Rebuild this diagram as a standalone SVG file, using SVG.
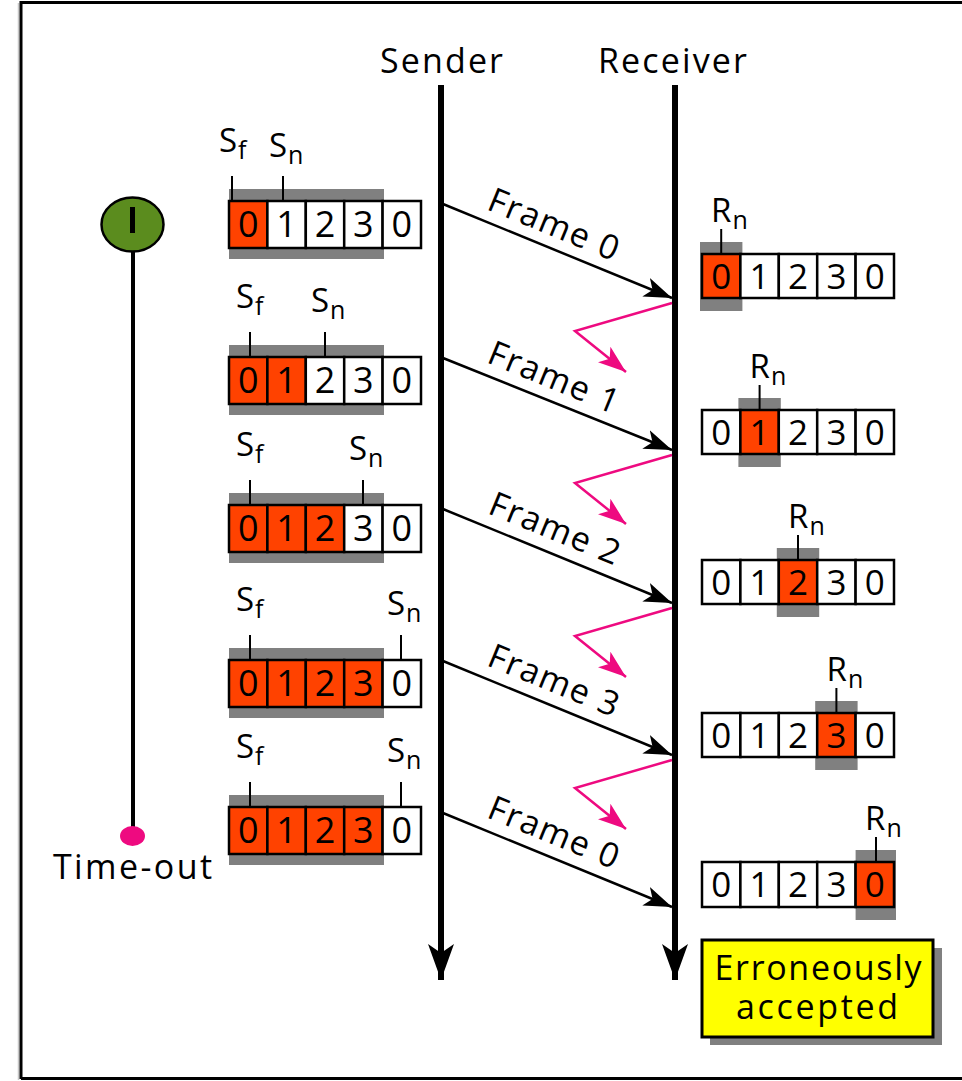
<svg xmlns="http://www.w3.org/2000/svg" width="962" height="1081" viewBox="0 0 962 1081">
<style>
text{font-family:"Open Sans","DejaVu Sans",sans-serif;fill:#000}
.lbl{font-size:34px}
.dig{font-size:36px;text-anchor:middle}
.rdig{font-size:35px;text-anchor:middle}
.sl{font-size:33px}
.sub{font-size:25px}
.cell{stroke:#000;stroke-width:2.5}
.on{fill:#ff4200}
.off{fill:#fff}
.shade{fill:#808080}
.tick{stroke:#000;stroke-width:2}
.frame{stroke:#000;stroke-width:2.5;fill:none;marker-end:url(#ah)}
.ack{stroke:#ee0a80;stroke-width:2.5;fill:none;marker-end:url(#ph)}
.axis{stroke:#000;stroke-width:6;marker-end:url(#vh)}
</style>
<defs>
<marker id="ah" markerUnits="userSpaceOnUse" markerWidth="30" markerHeight="22" refX="28" refY="11" orient="auto" viewBox="0 0 30 22">
<path d="M0,1 L28,11 L0,21 L7,11 z" fill="#000"/>
</marker>
<marker id="ph" markerUnits="userSpaceOnUse" markerWidth="30" markerHeight="22" refX="28" refY="11" orient="auto" viewBox="0 0 30 22">
<path d="M0,1 L28,11 L0,21 L7,11 z" fill="#ee0a80"/>
</marker>
<marker id="vh" markerUnits="userSpaceOnUse" markerWidth="40" markerHeight="26" refX="36" refY="13" orient="auto" viewBox="0 0 40 26">
<path d="M0,0 L36,13 L0,26 L9,13 z" fill="#000"/>
</marker>
</defs>
<rect width="962" height="1081" fill="#fff"/>
<g id="border" fill="none">
<path d="M18.5,3 V1080" stroke="#c8c8c8" stroke-width="1.5"/>
<path d="M21,1079 V2.5 H962 M21,1078.5 H962" stroke="#000" stroke-width="3"/>
</g>

<g id="sender-axis">
<text class="lbl" x="441.5" y="73" text-anchor="middle" textLength="123" lengthAdjust="spacing">Sender</text>
</g>
<g id="receiver-axis">
<text class="lbl" x="672.5" y="73" text-anchor="middle" textLength="149" lengthAdjust="spacing">Receiver</text>
</g>

<g id="timer">
<line x1="133" y1="252" x2="133" y2="828" stroke="#000" stroke-width="4"/>
<ellipse cx="132.5" cy="224.5" rx="31" ry="27" fill="#5b8c1e" stroke="#000" stroke-width="2.5"/>
<rect x="130" y="207" width="5" height="26" fill="#000"/>
<ellipse cx="132.5" cy="836" rx="12.5" ry="10" fill="#ee0a80"/>
<text class="lbl" x="132.5" y="879" text-anchor="middle" textLength="159" lengthAdjust="spacing">Time-out</text>
</g>

<!-- Sender windows -->
<g id="sw1">
<rect class="shade" x="229" y="189" width="155" height="70"/>
<rect class="cell on" x="229" y="201" width="38.4" height="47"/>
<rect class="cell off" x="267.4" y="201" width="38.4" height="47"/>
<rect class="cell off" x="305.8" y="201" width="38.4" height="47"/>
<rect class="cell off" x="344.2" y="201" width="38.4" height="47"/>
<rect class="cell off" x="382.6" y="201" width="38.4" height="47"/>
<text class="dig" y="237"><tspan x="248.2">0</tspan><tspan x="286.6">1</tspan><tspan x="325">2</tspan><tspan x="363.4">3</tspan><tspan x="401.8">0</tspan></text>
<line class="tick" x1="232" y1="176" x2="232" y2="201"/>
<line class="tick" x1="283" y1="176" x2="283" y2="201"/>
<text class="sl" x="219" y="152">S<tspan class="sub" dx="1" dy="7">f</tspan></text>
<text class="sl" x="269" y="157">S<tspan class="sub" dx="1" dy="7">n</tspan></text>
</g>
<g id="sw2">
<rect class="shade" x="229" y="345" width="155" height="70"/>
<rect class="cell on" x="229" y="357" width="38.4" height="47"/>
<rect class="cell on" x="267.4" y="357" width="38.4" height="47"/>
<rect class="cell off" x="305.8" y="357" width="38.4" height="47"/>
<rect class="cell off" x="344.2" y="357" width="38.4" height="47"/>
<rect class="cell off" x="382.6" y="357" width="38.4" height="47"/>
<text class="dig" y="393"><tspan x="248.2">0</tspan><tspan x="286.6">1</tspan><tspan x="325">2</tspan><tspan x="363.4">3</tspan><tspan x="401.8">0</tspan></text>
<line class="tick" x1="250" y1="332" x2="250" y2="357"/>
<line class="tick" x1="325" y1="332" x2="325" y2="357"/>
<text class="sl" x="236" y="308">S<tspan class="sub" dx="1" dy="7">f</tspan></text>
<text class="sl" x="311" y="312">S<tspan class="sub" dx="1" dy="7">n</tspan></text>
</g>
<g id="sw3">
<rect class="shade" x="229" y="493" width="155" height="70"/>
<rect class="cell on" x="229" y="505" width="38.4" height="47"/>
<rect class="cell on" x="267.4" y="505" width="38.4" height="47"/>
<rect class="cell on" x="305.8" y="505" width="38.4" height="47"/>
<rect class="cell off" x="344.2" y="505" width="38.4" height="47"/>
<rect class="cell off" x="382.6" y="505" width="38.4" height="47"/>
<text class="dig" y="541"><tspan x="248.2">0</tspan><tspan x="286.6">1</tspan><tspan x="325">2</tspan><tspan x="363.4">3</tspan><tspan x="401.8">0</tspan></text>
<line class="tick" x1="250" y1="480" x2="250" y2="505"/>
<line class="tick" x1="363" y1="480" x2="363" y2="505"/>
<text class="sl" x="236" y="456">S<tspan class="sub" dx="1" dy="7">f</tspan></text>
<text class="sl" x="349" y="460">S<tspan class="sub" dx="1" dy="7">n</tspan></text>
</g>
<g id="sw4">
<rect class="shade" x="229" y="648" width="155" height="70"/>
<rect class="cell on" x="229" y="660" width="38.4" height="47"/>
<rect class="cell on" x="267.4" y="660" width="38.4" height="47"/>
<rect class="cell on" x="305.8" y="660" width="38.4" height="47"/>
<rect class="cell on" x="344.2" y="660" width="38.4" height="47"/>
<rect class="cell off" x="382.6" y="660" width="38.4" height="47"/>
<text class="dig" y="696"><tspan x="248.2">0</tspan><tspan x="286.6">1</tspan><tspan x="325">2</tspan><tspan x="363.4">3</tspan><tspan x="401.8">0</tspan></text>
<line class="tick" x1="250" y1="635" x2="250" y2="660"/>
<line class="tick" x1="401" y1="635" x2="401" y2="660"/>
<text class="sl" x="236" y="611">S<tspan class="sub" dx="1" dy="7">f</tspan></text>
<text class="sl" x="387" y="615">S<tspan class="sub" dx="1" dy="7">n</tspan></text>
</g>
<g id="sw5">
<rect class="shade" x="229" y="795" width="155" height="70"/>
<rect class="cell on" x="229" y="807" width="38.4" height="47"/>
<rect class="cell on" x="267.4" y="807" width="38.4" height="47"/>
<rect class="cell on" x="305.8" y="807" width="38.4" height="47"/>
<rect class="cell on" x="344.2" y="807" width="38.4" height="47"/>
<rect class="cell off" x="382.6" y="807" width="38.4" height="47"/>
<text class="dig" y="843"><tspan x="248.2">0</tspan><tspan x="286.6">1</tspan><tspan x="325">2</tspan><tspan x="363.4">3</tspan><tspan x="401.8">0</tspan></text>
<line class="tick" x1="250" y1="782" x2="250" y2="807"/>
<line class="tick" x1="401" y1="782" x2="401" y2="807"/>
<text class="sl" x="236" y="758">S<tspan class="sub" dx="1" dy="7">f</tspan></text>
<text class="sl" x="387" y="762">S<tspan class="sub" dx="1" dy="7">n</tspan></text>
</g>

<!-- Receiver windows -->
<g id="rw1">
<rect class="shade" x="700" y="242" width="42.4" height="69"/>
<rect class="cell on" x="702" y="254" width="38.4" height="44"/>
<rect class="cell off" x="740.4" y="254" width="38.4" height="44"/>
<rect class="cell off" x="778.8" y="254" width="38.4" height="44"/>
<rect class="cell off" x="817.2" y="254" width="38.4" height="44"/>
<rect class="cell off" x="855.6" y="254" width="38.4" height="44"/>
<text class="rdig" y="289"><tspan x="721.2">0</tspan><tspan x="759.6">1</tspan><tspan x="798">2</tspan><tspan x="836.4">3</tspan><tspan x="874.8">0</tspan></text>
<line class="tick" x1="721.2" y1="229" x2="721.2" y2="254"/>
<text class="sl" x="711" y="222">R<tspan class="sub" dx="1" dy="7">n</tspan></text>
</g>
<g id="rw2">
<rect class="shade" x="738.4" y="398" width="42.4" height="69"/>
<rect class="cell off" x="702" y="410" width="38.4" height="44"/>
<rect class="cell on" x="740.4" y="410" width="38.4" height="44"/>
<rect class="cell off" x="778.8" y="410" width="38.4" height="44"/>
<rect class="cell off" x="817.2" y="410" width="38.4" height="44"/>
<rect class="cell off" x="855.6" y="410" width="38.4" height="44"/>
<text class="rdig" y="445"><tspan x="721.2">0</tspan><tspan x="759.6">1</tspan><tspan x="798">2</tspan><tspan x="836.4">3</tspan><tspan x="874.8">0</tspan></text>
<line class="tick" x1="759.6" y1="385" x2="759.6" y2="410"/>
<text class="sl" x="749.5" y="378">R<tspan class="sub" dx="1" dy="7">n</tspan></text>
</g>
<g id="rw3">
<rect class="shade" x="776.8" y="548" width="42.4" height="69"/>
<rect class="cell off" x="702" y="560" width="38.4" height="44"/>
<rect class="cell off" x="740.4" y="560" width="38.4" height="44"/>
<rect class="cell on" x="778.8" y="560" width="38.4" height="44"/>
<rect class="cell off" x="817.2" y="560" width="38.4" height="44"/>
<rect class="cell off" x="855.6" y="560" width="38.4" height="44"/>
<text class="rdig" y="595"><tspan x="721.2">0</tspan><tspan x="759.6">1</tspan><tspan x="798">2</tspan><tspan x="836.4">3</tspan><tspan x="874.8">0</tspan></text>
<line class="tick" x1="798" y1="535" x2="798" y2="560"/>
<text class="sl" x="788" y="528">R<tspan class="sub" dx="1" dy="7">n</tspan></text>
</g>
<g id="rw4">
<rect class="shade" x="815.2" y="701" width="42.4" height="69"/>
<rect class="cell off" x="702" y="713" width="38.4" height="44"/>
<rect class="cell off" x="740.4" y="713" width="38.4" height="44"/>
<rect class="cell off" x="778.8" y="713" width="38.4" height="44"/>
<rect class="cell on" x="817.2" y="713" width="38.4" height="44"/>
<rect class="cell off" x="855.6" y="713" width="38.4" height="44"/>
<text class="rdig" y="748"><tspan x="721.2">0</tspan><tspan x="759.6">1</tspan><tspan x="798">2</tspan><tspan x="836.4">3</tspan><tspan x="874.8">0</tspan></text>
<line class="tick" x1="836.4" y1="688" x2="836.4" y2="713"/>
<text class="sl" x="826.5" y="681">R<tspan class="sub" dx="1" dy="7">n</tspan></text>
</g>
<g id="rw5">
<rect class="shade" x="855.6" y="850" width="40.4" height="70"/>
<rect class="cell off" x="702" y="862" width="38.4" height="45"/>
<rect class="cell off" x="740.4" y="862" width="38.4" height="45"/>
<rect class="cell off" x="778.8" y="862" width="38.4" height="45"/>
<rect class="cell off" x="817.2" y="862" width="38.4" height="45"/>
<rect class="cell on" x="855.6" y="862" width="38.4" height="45"/>
<text class="rdig" y="897"><tspan x="721.2">0</tspan><tspan x="759.6">1</tspan><tspan x="798">2</tspan><tspan x="836.4">3</tspan><tspan x="874.8">0</tspan></text>
<line class="tick" x1="876" y1="837" x2="876" y2="862"/>
<text class="sl" x="865" y="830">R<tspan class="sub" dx="1" dy="7">n</tspan></text>
</g>

<g id="note">
<rect x="710" y="948" width="232" height="97" fill="#808080"/>
<rect x="702" y="940" width="231" height="97" fill="#ffff00" stroke="#000" stroke-width="3"/>
<text class="lbl" x="818" y="980" text-anchor="middle" textLength="207" lengthAdjust="spacing">Erroneously</text>
<text class="lbl" x="817" y="1019" text-anchor="middle" textLength="162" lengthAdjust="spacing">accepted</text>
</g>

<g id="connectors">
<line class="axis" x1="441" y1="85" x2="441" y2="980"/>
<line class="axis" x1="675" y1="85" x2="675" y2="980"/>
<line class="frame" x1="443" y1="204" x2="672" y2="298"/>
<line class="frame" x1="443" y1="358" x2="672" y2="450"/>
<line class="frame" x1="443" y1="509" x2="672" y2="603"/>
<line class="frame" x1="443" y1="661" x2="672" y2="755"/>
<line class="frame" x1="443" y1="813" x2="672" y2="907"/>
<polyline class="ack" points="672,303 575,331 626,372"/>
<polyline class="ack" points="672,455 575,483 626,524"/>
<polyline class="ack" points="672,608 575,636 626,677"/>
<polyline class="ack" points="672,760 575,788 626,829"/>
<g transform="translate(554,224) rotate(22.3)"><text class="lbl" x="0" y="12" text-anchor="middle" textLength="138" lengthAdjust="spacing">Frame 0</text></g>
<g transform="translate(554,377) rotate(22.3)"><text class="lbl" x="0" y="12" text-anchor="middle" textLength="138" lengthAdjust="spacing">Frame 1</text></g>
<g transform="translate(555,528) rotate(22.3)"><text class="lbl" x="0" y="12" text-anchor="middle" textLength="138" lengthAdjust="spacing">Frame 2</text></g>
<g transform="translate(554,680) rotate(22.3)"><text class="lbl" x="0" y="12" text-anchor="middle" textLength="138" lengthAdjust="spacing">Frame 3</text></g>
<g transform="translate(554,832) rotate(22.3)"><text class="lbl" x="0" y="12" text-anchor="middle" textLength="138" lengthAdjust="spacing">Frame 0</text></g>
</g>
</svg>
